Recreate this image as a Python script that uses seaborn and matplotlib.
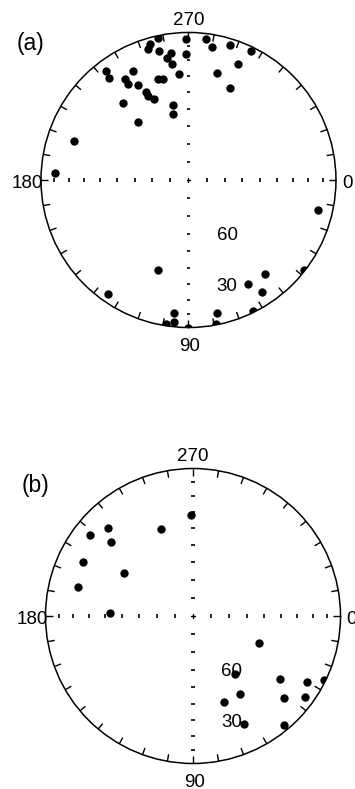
import numpy as np
import pandas as pd
import matplotlib
matplotlib.use("Agg")
import matplotlib.pyplot as plt
from matplotlib.patches import Circle
import seaborn as sns

sns.set_theme(style="white")
plt.rcParams["font.family"] = ["Liberation Sans", "DejaVu Sans"]
plt.rcParams["text.color"] = "black"

# ---- data: declination / inclination (degrees) ----
dec_a = [269, 258, 254, 253, 257, 262, 269, 260, 262, 265, 243, 233, 232, 238,
         238, 242, 253, 256, 244, 244, 247, 230, 258, 257, 229, 199, 183,
         277, 280, 287, 296, 293, 285, 294,
         109, 125, 96, 96, 99, 90, 13, 38, 51, 60, 57, 78, 64, 79]
inc_a = [5, 2, 5, 8, 11, 14, 16, 17, 22, 29, 18, 8, 13, 20,
         24, 28, 29, 30, 34, 37, 40, 32, 47, 52, 47, 19, 10,
         4, 9, 5, 3, 16, 26, 32,
         36, 6, 10, 4, 1, 0, 11, 1, 19, 20, 10, 9, 1, 1]

dec_b = [269, 250, 226, 218, 222, 206, 212, 194, 182,
         22, 54, 36, 30, 26, 59, 70, 42, 36, 65, 50]
inc_b = [32, 37, 18, 12, 26, 18, 44, 21, 43,
         50, 50, 28, 12, 1, 38, 38, 18, 7, 20, 4]

compass_labels = ["0", "90", "180", "270"]
dip_labels = [60, 30]
panel_labels = ["(a)", "(b)"]


def rho(inc):
    inc = np.asarray(inc, dtype=float)
    return np.sqrt(2.0) * np.sin(np.radians(90.0 - inc) / 2.0)


def equal_area(dec, inc):
    r = rho(inc)
    d = np.radians(np.asarray(dec, dtype=float))
    return r * np.cos(d), -r * np.sin(d)


fig = plt.figure(figsize=(3.55, 7.89), dpi=100)

panels = [
    dict(rect=[0, 0.5, 1, 0.5], xlim=(-1.278, 1.129), ylim=(-1.454, 1.220),
         dec=dec_a, inc=inc_a, label=panel_labels[0], lab_xy=(-1.163, 0.922)),
    dict(rect=[0, 0.0, 1, 0.5], xlim=(-1.3085, 1.0983), ylim=(-1.1729, 1.5017),
         dec=dec_b, inc=inc_b, label=panel_labels[1], lab_xy=(-1.159, 0.885)),
]

fs = 13.5
for p in panels:
    ax = fig.add_axes(p["rect"])
    ax.set_xlim(*p["xlim"])
    ax.set_ylim(*p["ylim"])
    ax.axis("off")

    circ = Circle((0, 0), 1.0, fill=False, lw=1.1, color="black", zorder=3)
    ax.add_patch(circ)

    # declination ticks every 10 degrees, pointing inwards
    for a in range(0, 360, 10):
        t = np.radians(a)
        ax.plot([np.cos(t), 0.952 * np.cos(t)], [-np.sin(t), -0.952 * np.sin(t)],
                color="black", lw=1.0, solid_capstyle="butt")

    # inclination ticks along the axes
    for inc in range(80, 0, -10):
        r = float(rho(inc))
        for s in (1, -1):
            ax.plot([s * r, s * r], [-0.013, 0.013], color="black", lw=1.2,
                    solid_capstyle="butt")
            ax.plot([-0.013, 0.013], [s * r, s * r], color="black", lw=1.2,
                    solid_capstyle="butt")
    ax.plot([-0.012, 0.012], [0, 0], color="black", lw=1.0)
    ax.plot([0, 0], [-0.012, 0.012], color="black", lw=1.0)

    x, y = equal_area(p["dec"], p["inc"])
    df = pd.DataFrame({"x": x, "y": y})
    sns.scatterplot(data=df, x="x", y="y", ax=ax, color="black", s=36,
                    linewidth=0, legend=False, zorder=4)
    clip = Circle((0, 0), 1.0, transform=ax.transData)
    ax.collections[-1].set_clip_path(clip)
    ax.set_xlim(*p["xlim"])
    ax.set_ylim(*p["ylim"])
    ax.set_xlabel("")
    ax.set_ylabel("")

    # compass labels
    ax.text(1.04, -0.057, compass_labels[0], ha="left", va="baseline", fontsize=fs)
    ax.text(0.01, -1.156, compass_labels[1], ha="center", va="baseline", fontsize=fs)
    ax.text(-0.985, -0.057, compass_labels[2], ha="right", va="baseline", fontsize=fs)
    ax.text(0.0, 1.048, compass_labels[3], ha="center", va="baseline", fontsize=fs)

    # inclination labels
    for lab in dip_labels:
        ax.text(0.19, -float(rho(lab)) - 0.043, str(lab), ha="left",
                va="baseline", fontsize=fs)

    ax.text(p["lab_xy"][0], p["lab_xy"][1], p["label"], ha="left", va="center",
            fontsize=16.5)

fig.savefig("out.png", dpi=100)
